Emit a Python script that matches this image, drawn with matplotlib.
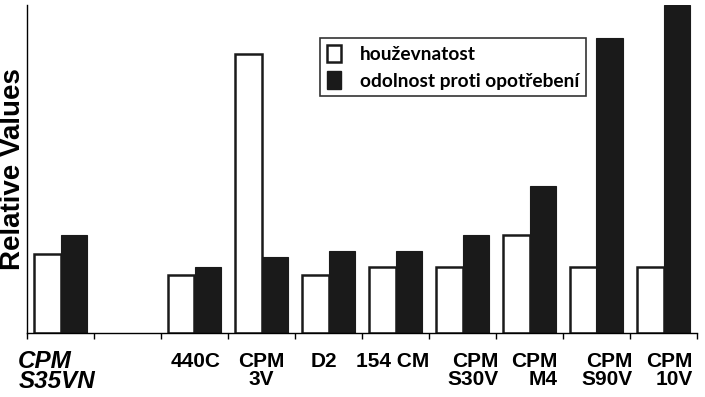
import numpy as np
import matplotlib.pyplot as plt
from matplotlib.patches import Patch

plt.rcParams['font.family'] = ['Liberation Sans', 'DejaVu Sans']

oceli = ['CPM\nS35VN', '', '440C', 'CPM\n3V', 'D2', '154 CM',
         'CPM\nS30V', 'CPM\nM4', 'CPM\nS90V', 'CPM\n10V']
houzevnatost = [79, np.nan, 58, 279, 58, 66, 66, 98, 66, 66]
odolnost = [98, np.nan, 66, 76, 82, 82, 98, 147, 295, 328]

fig = plt.figure(figsize=(7.05, 3.97), dpi=100)
ax = fig.add_axes([27 / 705, 64 / 397, 670 / 705, 328 / 397])

x = np.arange(len(oceli))
sirka = 0.4
ax.bar(x - sirka / 2, houzevnatost, sirka, color='white', edgecolor='#1a1a1a', linewidth=1.8)
ax.bar(x + sirka / 2, odolnost, sirka, color='#1a1a1a', edgecolor='#1a1a1a', linewidth=0.8)

ax.set_xlim(-0.5, len(oceli) - 0.5)
ax.set_ylim(0, 328)
ax.set_xticks(np.arange(len(oceli) + 1) - 0.5)
ax.set_xticklabels([])
ax.set_yticks([])
ax.tick_params(axis='x', direction='out', length=4, width=1)
for s in ['top', 'right']:
    ax.spines[s].set_visible(False)
for s in ['left', 'bottom']:
    ax.spines[s].set_linewidth(1.0)

# popisky pod osou
posun = [0, 0, 0.02, 0.0, -0.07, -0.04, 0.16, 0.07, 0.16, 0.09]
zarovnani = ['left', 'center', 'center', 'center', 'center', 'center',
             'right', 'right', 'right', 'right']
for i, nazev in enumerate(oceli):
    if not nazev:
        continue
    if i == 0:
        ax.text(-0.013, -0.052, nazev, transform=ax.transAxes, fontsize=17.5,
                fontweight='bold', style='italic', ha='left', va='top',
                linespacing=0.85)
    else:
        ax.text(i + posun[i], -0.058, nazev, transform=ax.get_xaxis_transform(),
                fontsize=15, fontweight='bold', ha='center', va='top',
                multialignment=zarovnani[i], linespacing=0.95)

fig.text(0.018, 0.575, 'Relative Values', rotation=90, fontsize=20,
         fontweight='bold', ha='center', va='center')

handles = [Patch(facecolor='white', edgecolor='#1a1a1a', linewidth=1.8),
           Patch(facecolor='#1a1a1a', edgecolor='#1a1a1a')]
leg = fig.legend(handles, ['houževnatost', 'odolnost proti opotřebení'],
                 loc='upper left', bbox_to_anchor=(320 / 705, 1 - 38 / 397),
                 frameon=True, fancybox=False, edgecolor='black',
                 handlelength=0.75, handleheight=1.0, handletextpad=1.0,
                 borderpad=0.35, labelspacing=0.45, borderaxespad=0,
                 prop={'family': 'Lato', 'weight': 'bold', 'size': 13.8})
leg.get_frame().set_linewidth(1.2)

fig.savefig('out.png', dpi=100)
